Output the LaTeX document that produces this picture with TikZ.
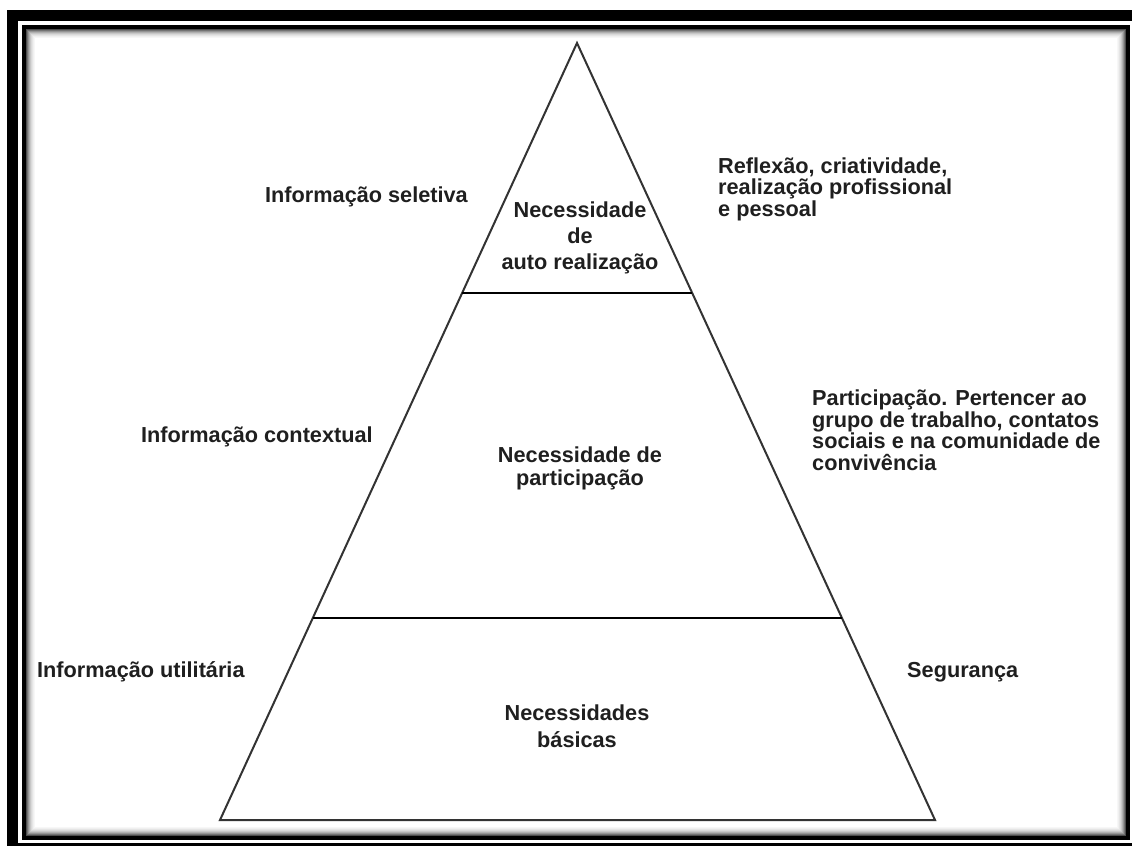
\documentclass[tikz,border=0pt]{standalone}
\usepackage{fontspec}
\setmainfont{Liberation Sans}
\usetikzlibrary{calc}
\begin{document}
\begin{tikzpicture}[x=1pt,y=-1pt,
  lbl/.style={font=\bfseries\fontsize{21.7}{21.5}\selectfont, text=black!88, inner sep=0pt},
  plbl/.style={lbl, align=center, anchor=base},
  slbl/.style={lbl, align=left, anchor=base west},
  edge/.style={line width=2pt, draw=black!80, line join=miter},
  divider/.style={line width=2.4pt, draw=black}]
\useasboundingbox (0,0) rectangle (1132,846);
\fill[white] (0,0) rectangle (1132,846);
% frame
\fill[black] (7,10) rectangle (1132,846);
\fill[white] (18,21) rectangle (1132,843);
\fill[black] (22,25) rectangle (1130,840);
\fill[white] (26,29) rectangle (1126,836);
\foreach \i/\c in {0/70,1/55,2/42,3/31,4/22,5/15,6/10,7/6,8/3} {
  \draw[black!\c, line width=1pt] (26.5+\i,29.5+\i) rectangle (1125.5-\i,835.5-\i);
}
% pyramid
\coordinate (apex) at (577,43);
\coordinate (bl) at (220,820);
\coordinate (br) at (935,820);
\draw[edge] (bl) -- (apex) -- (br) -- cycle;
\coordinate (d1l) at ($(apex)!0.3218!(bl)$);
\coordinate (d1r) at ($(apex)!0.3218!(br)$);
\coordinate (d2l) at ($(apex)!0.740!(bl)$);
\coordinate (d2r) at ($(apex)!0.740!(br)$);
\draw[divider] (d1l) -- (d1r);
\draw[divider] (d2l) -- (d2r);
% pyramid labels (anchor = baseline of last line)
\node[plbl] (top) at (580,269) {Necessidade\\[4.5pt]de\\[4.5pt]auto realização};
\node[plbl] (mid) at (580,485) {Necessidade de\\[1.5pt]participação};
\node[plbl] (bot) at (577,747) {Necessidades\\[5.5pt]básicas};
% side labels
\node[slbl] (sel) at (265,202) {Informação seletiva};
\node[slbl] (ctx) at (141,442) {Informação contextual};
\node[slbl] (uti) at (37,677) {Informação utilitária};
\node[slbl] (seg) at (907,677) {Segurança};
\node[slbl] (ref) at (718,216) {Reflexão, criatividade,\\realização profissional\\e pessoal};
\node[slbl] (par) at (812,470) {Participação. Pertencer ao\\grupo de trabalho, contatos\\sociais e na comunidade de\\convivência};
\end{tikzpicture}
\end{document}
